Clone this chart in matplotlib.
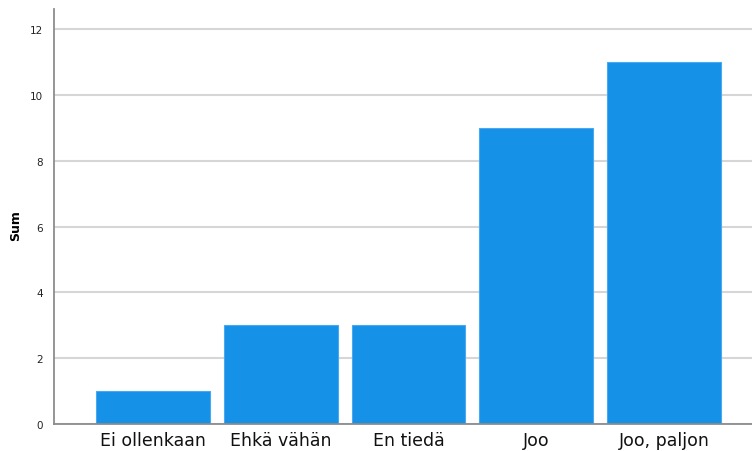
import matplotlib.pyplot as plt

categories = ["Ei ollenkaan", "Ehkä vähän", "En tiedä", "Joo", "Joo, paljon"]
values = [1, 3, 3, 9, 11]
yticks = [0, 2, 4, 6, 8, 10, 12]

fig = plt.figure(figsize=(7.52, 4.52), dpi=100)
ax = fig.add_axes([0.0718, 0.0597, 0.9282, 0.9183])

ax.grid(axis="y", color="#d6d6d6", linewidth=1.5, zorder=0)
ax.set_axisbelow(True)
ax.bar(range(len(categories)), values, width=0.89, color="#1591e8",
       edgecolor="#4aa8ee", linewidth=0.8, zorder=2)

ax.set_xlim(-0.775, 4.69)
ax.set_ylim(0, 12.61)
ax.set_yticks(yticks)
ax.set_xticks(range(len(categories)))
ax.set_xticklabels(categories, fontsize=12.5, color="#111111")
ax.tick_params(axis="y", labelsize=7.5, length=0, pad=8, colors="#222222")
ax.tick_params(axis="x", length=0, pad=5)

for side in ["top", "right"]:
    ax.spines[side].set_visible(False)
for side in ["left", "bottom"]:
    ax.spines[side].set_color("#8c8c8c")
    ax.spines[side].set_linewidth(1.3)

ax.set_ylabel("Sum", fontsize=9, fontweight="bold")
ax.yaxis.set_label_coords(-0.045, 0.48)

fig.savefig("out.png", dpi=100)
